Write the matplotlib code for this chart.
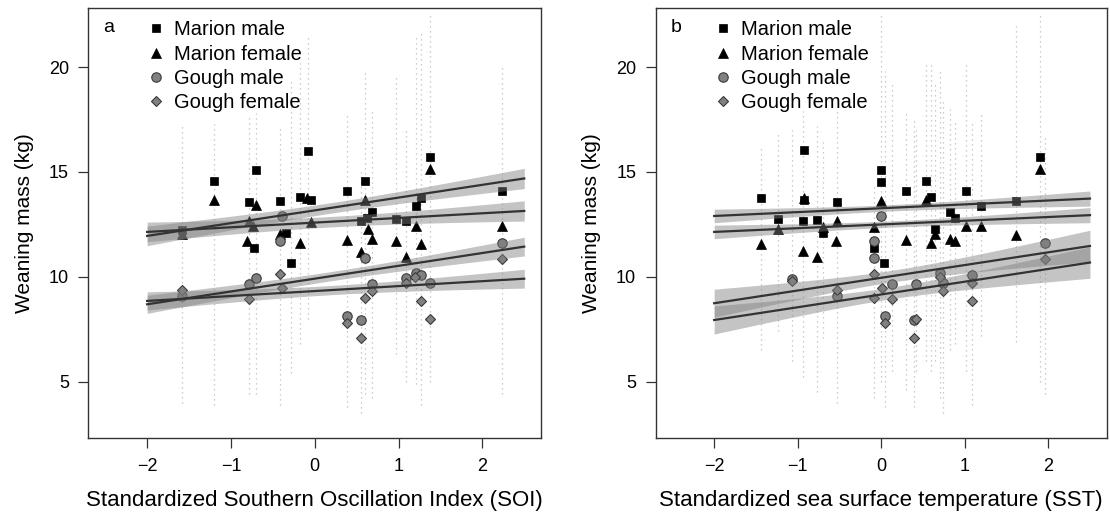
import matplotlib
matplotlib.use('Agg')
import matplotlib.pyplot as plt
from matplotlib.lines import Line2D
import numpy as np

plt.rcParams['font.family'] = ['Liberation Sans', 'DejaVu Sans']

# ---- panel a : SOI ----
a_mm_x = [-1.58, -1.20, -0.78, -0.70, -0.73, -0.42, -0.34, -0.28, -0.17, -0.08, -0.05,
          0.38, 0.55, 0.60, 0.62, 0.68, 0.97, 1.09, 1.21, 1.27, 1.38, 2.23]
a_mm_y = [12.22, 14.55, 13.57, 15.10, 11.35, 13.62, 12.10, 10.66, 13.81, 16.02, 13.65,
          14.10, 12.65, 14.58, 12.80, 13.10, 12.76, 12.67, 13.38, 13.78, 15.72, 14.07]
a_mf_x = [-1.58, -1.20, -0.81, -0.78, -0.74, -0.70, -0.42, -0.17, -0.09, -0.05,
          0.38, 0.55, 0.60, 0.63, 0.68, 0.97, 1.09, 1.21, 1.27, 1.38, 2.23]
a_mf_y = [12.03, 13.65, 11.71, 12.67, 12.43, 13.43, 12.03, 11.63, 13.78, 12.63,
          11.74, 11.20, 13.65, 12.27, 11.79, 11.71, 10.95, 12.41, 11.56, 15.13, 12.41]
a_gm_x = [-1.58, -0.78, -0.70, -0.42, -0.39, 0.38, 0.55, 0.60, 0.68, 1.09, 1.21, 1.27, 1.38, 2.23]
a_gm_y = [9.09, 9.65, 9.93, 11.71, 12.90, 8.15, 7.94, 10.89, 9.68, 9.96, 10.20, 10.09, 9.70, 11.63]
a_gf_x = [-1.58, -0.78, -0.42, -0.39, 0.38, 0.55, 0.60, 0.68, 1.09, 1.20, 1.27, 1.38, 2.23]
a_gf_y = [9.36, 8.93, 10.15, 9.48, 7.82, 7.10, 9.01, 9.33, 9.72, 9.99, 8.85, 8.00, 10.84]

# individual pups, shown as the vertical range of each year column
a_col_x = [-1.58, -1.20, -0.78, -0.70, -0.42, -0.28, -0.17, -0.08, 0.38, 0.55, 0.60,
           0.68, 0.97, 1.09, 1.21, 1.27, 1.38, 2.23]
a_col_lo = [4.0, 3.9, 4.4, 4.4, 3.9, 5.4, 6.8, 8.0, 3.8, 3.5, 4.4, 4.2, 6.3, 5.0, 4.9, 3.9, 5.0, 4.4]
a_col_hi = [17.2, 17.3, 17.6, 17.8, 17.2, 19.4, 20.2, 21.6, 17.8, 15.0, 19.8, 17.9, 19.6,
            17.0, 21.6, 21.7, 22.5, 20.1]

# fitted lines: value at x=-2 and x=2.5, CI min half width and spread
a_fit_y0 = [11.95, 12.14, 8.69, 8.85]
a_fit_y1 = [14.69, 13.14, 11.44, 9.91]
a_ci_h0 = [0.25, 0.25, 0.22, 0.22]
a_ci_k = [0.18, 0.18, 0.17, 0.17]

# ---- panel b : SST ----
b_mm_x = [-1.44, -1.23, -0.92, -0.92, -0.94, -0.77, -0.70, -0.53, -0.09, 0.03, 0.00, 0.00,
          0.30, 0.54, 0.60, 0.65, 0.82, 0.88, 1.02, 1.19, 1.62, 1.90]
b_mm_y = [13.75, 12.78, 16.04, 13.65, 12.67, 12.70, 12.11, 13.57, 11.36, 10.68, 15.10, 14.54,
          14.10, 14.58, 13.81, 12.27, 13.10, 12.80, 14.07, 13.38, 13.62, 15.72]
b_mf_x = [-1.44, -1.23, -0.94, -0.92, -0.77, -0.70, -0.54, -0.53, -0.09, 0.00, 0.30,
          0.54, 0.60, 0.65, 0.82, 0.88, 1.02, 1.19, 1.62, 1.90]
b_mf_y = [11.58, 12.27, 11.23, 13.78, 10.95, 12.38, 11.71, 12.67, 12.38, 13.62, 11.75,
          13.65, 11.63, 12.03, 11.79, 11.71, 12.41, 12.41, 11.98, 15.13]
b_gm_x = [-1.07, -0.53, -0.08, -0.08, 0.00, 0.04, 0.13, 0.39, 0.42, 0.70, 0.74, 1.09, 1.96]
b_gm_y = [9.91, 9.09, 10.89, 11.71, 12.90, 8.15, 9.68, 7.94, 9.68, 10.20, 9.72, 10.09, 11.63]
b_gf_x = [-1.07, -0.53, -0.08, -0.08, 0.01, 0.04, 0.13, 0.39, 0.42, 0.70, 0.74, 1.09, 1.09, 1.96]
b_gf_y = [9.80, 9.36, 10.15, 9.01, 9.48, 7.82, 8.93, 7.10, 8.00, 9.99, 9.33, 9.72, 8.85, 10.84]

b_col_x = [-1.44, -1.23, -1.07, -0.94, -0.77, -0.70, -0.53, -0.09, 0.00, 0.04, 0.13, 0.30,
           0.39, 0.42, 0.54, 0.60, 0.65, 0.70, 0.74, 0.82, 0.88, 1.02, 1.09, 1.19, 1.62, 1.90, 1.96]
b_col_lo = [6.5, 7.4, 6.0, 5.2, 4.5, 7.1, 4.0, 4.2, 5.0, 3.8, 5.5, 4.6, 3.8, 5.5, 6.0, 5.5,
            6.0, 4.2, 3.5, 6.5, 6.8, 5.5, 3.9, 7.2, 6.9, 5.0, 4.4]
b_col_hi = [16.2, 16.8, 17.2, 17.9, 17.2, 16.5, 17.9, 14.4, 22.5, 19.8, 19.2, 17.9, 17.5,
            17.0, 20.3, 20.3, 19.2, 19.8, 18.5, 18.0, 17.5, 20.2, 17.5, 17.9, 22.0, 22.5, 16.8]

b_fit_y0 = [12.90, 12.14, 8.74, 7.94]
b_fit_y1 = [13.73, 12.94, 11.47, 10.68]
b_ci_h0 = [0.15, 0.15, 0.28, 0.28]
b_ci_k = [0.137, 0.137, 0.29, 0.29]

labels = ['Marion male', 'Marion female', 'Gough male', 'Gough female']
styles = [dict(marker='s', ms=6.0, mfc='black', mec='black', mew=0.5),
          dict(marker='^', ms=7.0, mfc='black', mec='black', mew=0.5),
          dict(marker='o', ms=6.8, mfc='#808080', mec='#3a3a3a', mew=0.8),
          dict(marker='D', ms=5.6, mfc='#808080', mec='#3a3a3a', mew=0.8)]


def draw_panel(ax, groups, cols, fit, letter, xlabel, xc):
    col_x, col_lo, col_hi = cols
    ax.vlines(col_x, col_lo, col_hi, colors='#bdbdbd', linewidth=0.9,
              linestyles=(0, (1, 3)), zorder=1)
    for (gx, gy), st in zip(groups, styles):
        ax.plot(gx, gy, linestyle='none', zorder=2, **st)
    xx = np.linspace(-2, 2.5, 100)
    y0s, y1s, h0s, ks = fit
    for y0, y1, h0, k in zip(y0s, y1s, h0s, ks):
        yy = y0 + (y1 - y0) * (xx + 2) / 4.5
        hw = np.sqrt(h0 ** 2 + (k * (xx - xc)) ** 2)
        ax.fill_between(xx, yy - hw, yy + hw, color='#808080', alpha=0.46,
                        linewidth=0, zorder=3)
    for y0, y1 in zip(y0s, y1s):
        ax.plot([-2, 2.5], [y0, y1], color='#333333', lw=1.6, zorder=4)

    ax.set_xlim(-2.7, 2.7)
    ax.set_ylim(2.3, 22.8)
    ax.set_xticks([-2, -1, 0, 1, 2])
    ax.set_xticklabels(['\u22122', '\u22121', '0', '1', '2'])
    ax.set_yticks([5, 10, 15, 20])
    ax.tick_params(labelsize=13, length=7, width=0.9, color='#333333', pad=7)
    for sp in ax.spines.values():
        sp.set_color('#333333')
        sp.set_linewidth(1.0)
    ax.set_xlabel(xlabel, fontsize=16, labelpad=11)
    ax.set_ylabel('Weaning mass (kg)', fontsize=15, labelpad=11)
    ax.text(0.045, 0.956, letter, transform=ax.transAxes, fontsize=14,
            ha='center', va='center')
    handles = [Line2D([], [], linestyle='none', **st) for st in styles]
    ax.legend(handles, labels, loc='upper left', bbox_to_anchor=(0.128, 0.972),
              frameon=False, fontsize=14.5, handlelength=1.0, handletextpad=0.35,
              labelspacing=0.26, borderpad=0, borderaxespad=0)


fig = plt.figure(figsize=(11.1, 5.21), dpi=100)
ax_a = fig.add_axes([0.0797, 0.1587, 0.4077, 0.8253])
ax_b = fig.add_axes([0.5907, 0.1587, 0.4063, 0.8253])

draw_panel(ax_a,
           [(a_mm_x, a_mm_y), (a_mf_x, a_mf_y), (a_gm_x, a_gm_y), (a_gf_x, a_gf_y)],
           (a_col_x, a_col_lo, a_col_hi),
           (a_fit_y0, a_fit_y1, a_ci_h0, a_ci_k),
           'a', 'Standardized Southern Oscillation Index (SOI)', 0.2)
draw_panel(ax_b,
           [(b_mm_x, b_mm_y), (b_mf_x, b_mf_y), (b_gm_x, b_gm_y), (b_gf_x, b_gf_y)],
           (b_col_x, b_col_lo, b_col_hi),
           (b_fit_y0, b_fit_y1, b_ci_h0, b_ci_k),
           'b', 'Standardized sea surface temperature (SST)', 0.1)

fig.savefig('out.png', dpi=100, facecolor='white')
